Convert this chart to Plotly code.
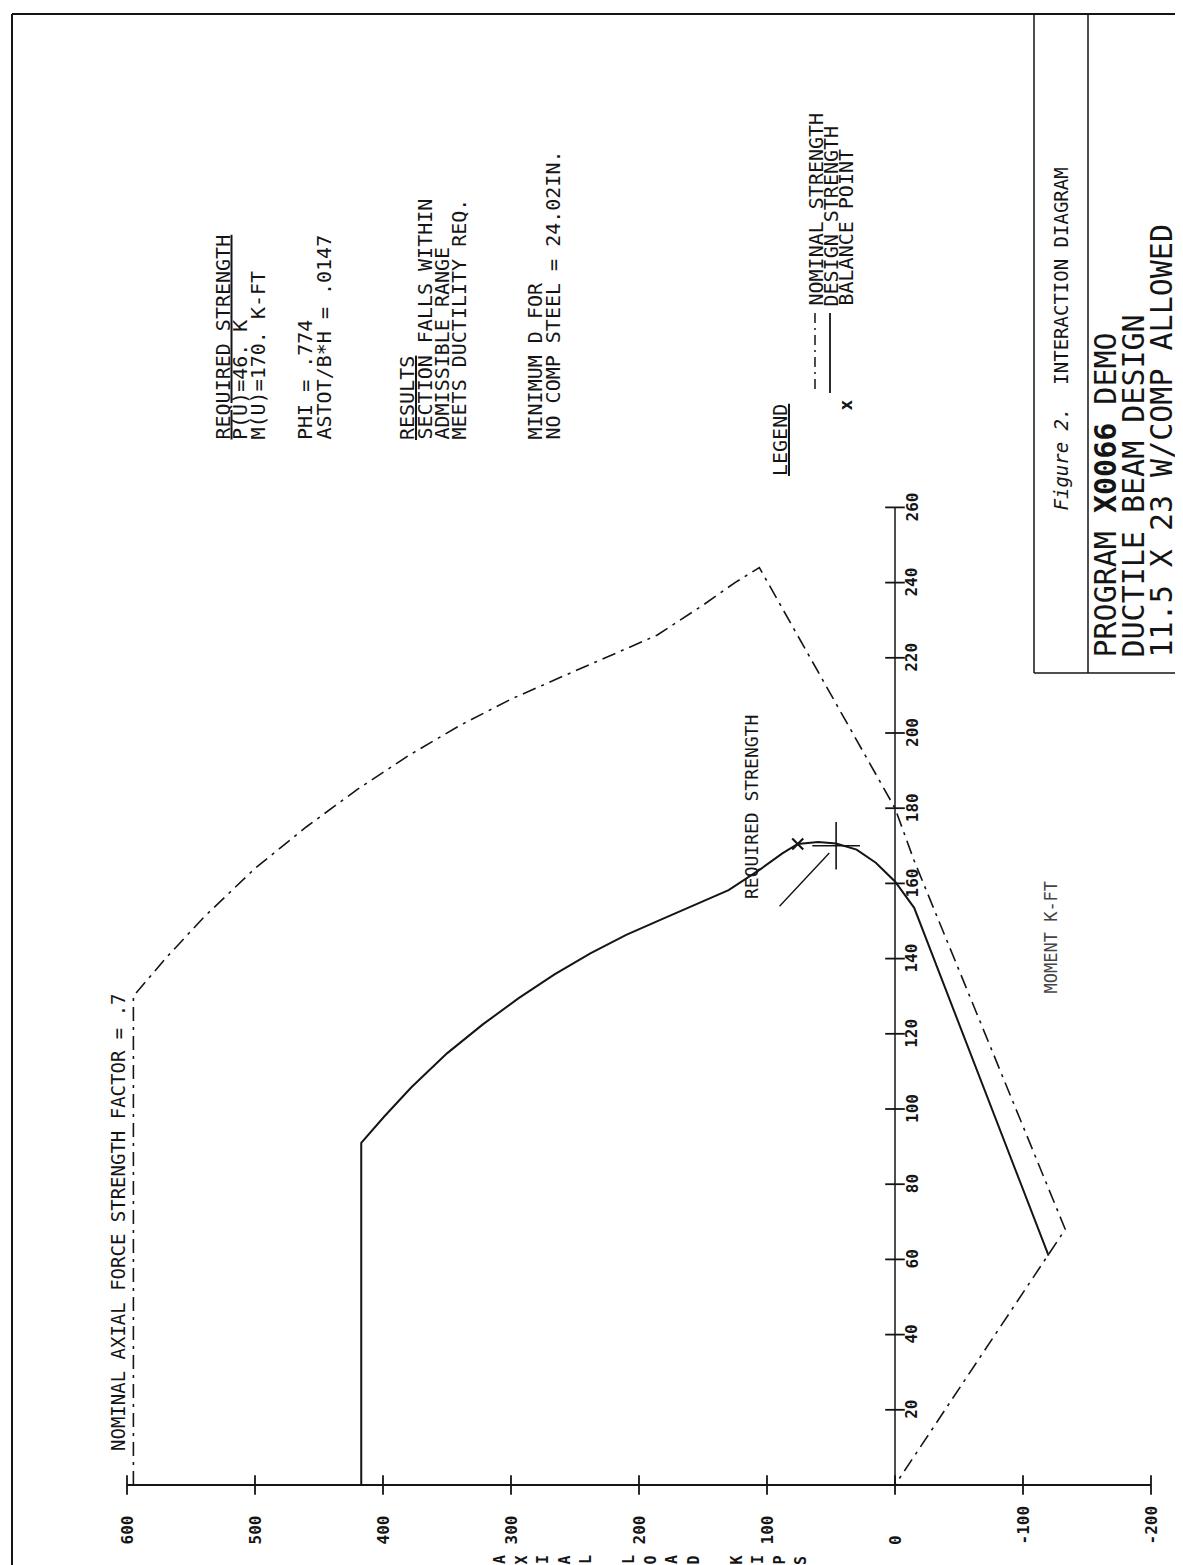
import plotly.graph_objects as go

W, H = 1183, 1565

# ---------------- data ----------------
axial_ticks = [600, 500, 400, 300, 200, 100, 0, -100, -200]
axial_labels = ["600", "500", "400", "300", "200", "100", "0", "-100", "-200"]
moment_ticks = [20, 40, 60, 80, 100, 120, 140, 160, 180, 200, 220, 240, 260]
moment_labels = ["20", "40", "60", "80", "100", "120", "140", "160", "180", "200", "220", "240", "260"]

# nominal strength (axial load P in kips, moment M in k-ft)
nominal_P = [595, 595, 570, 540, 500, 460, 420, 380, 340, 300, 260, 220, 186, 150, 125, 106, 0, -15, -133, 0]
nominal_M = [0, 130, 140, 151, 164, 175, 185, 194, 202, 209, 215, 221, 226, 234, 240, 244, 180, 166, 68, 0]

# design strength
design_P = [417, 417, 399, 378, 350, 322, 294, 266, 238, 210, 182, 154, 130, 105, 88, 76, 60, 46, 30, 15, 0, -15, -120]
design_M = [0, 91, 98, 105.7, 114.8, 122.5, 129.5, 135.8, 141.4, 146.3, 150.5, 154.7, 158.2, 163.8, 168, 170.5, 171, 170.6, 169, 165.5, 160.5, 153.5, 61]

balance_P = [76]
balance_M = [170.5]
required_P = [46]
required_M = [170]

# ---------------- layout geometry ----------------
X_ORIGIN, X_SCALE = 887, 1.28   # px of P=0, px per kip
Y_ORIGIN, Y_SCALE = 1477, 3.76  # px of M=0, px per k-ft
x_range = [X_ORIGIN / X_SCALE, (X_ORIGIN - W) / X_SCALE]
y_range = [(Y_ORIGIN - H) / Y_SCALE, Y_ORIGIN / Y_SCALE]

INK = "#151515"
MONO = "DejaVu Sans Mono"


def px(x):
    return x / W


def py(y):
    return 1 - y / H


fig = go.Figure()

# axes lines
fig.add_trace(go.Scatter(x=[max(axial_ticks), min(axial_ticks)], y=[0, 0], mode="lines",
                         line=dict(color=INK, width=1.8), hoverinfo="skip"))
fig.add_trace(go.Scatter(x=[0, 0], y=[0, max(moment_ticks)], mode="lines",
                         line=dict(color=INK, width=1.5), hoverinfo="skip"))
# tick marks
fig.add_trace(go.Scatter(x=axial_ticks, y=[0] * len(axial_ticks), mode="markers",
                         marker=dict(symbol="line-ns-open", size=14, color=INK,
                                     line=dict(color=INK, width=1.8)),
                         hoverinfo="skip"))
fig.add_trace(go.Scatter(x=[0] * len(moment_ticks), y=moment_ticks, mode="markers",
                         marker=dict(symbol="line-ew-open", size=14, color=INK,
                                     line=dict(color=INK, width=1.8)),
                         hoverinfo="skip"))

# curves
fig.add_trace(go.Scatter(x=nominal_P, y=nominal_M, mode="lines", name="NOMINAL STRENGTH",
                         line=dict(color=INK, width=1.6, dash="14px,6px,3px,6px")))
fig.add_trace(go.Scatter(x=design_P, y=design_M, mode="lines", name="DESIGN STRENGTH",
                         line=dict(color=INK, width=2)))
fig.add_trace(go.Scatter(x=balance_P, y=balance_M, mode="markers", name="BALANCE POINT",
                         marker=dict(symbol="x-thin-open", size=11, color=INK,
                                     line=dict(color=INK, width=2.2))))
fig.add_trace(go.Scatter(x=required_P, y=required_M, mode="markers", name="REQUIRED STRENGTH",
                         marker=dict(symbol="cross-thin-open", size=34, color=INK,
                                     line=dict(color=INK, width=1.6))))

ann = []
# axial tick labels
for v, t in zip(axial_ticks, axial_labels):
    ann.append(dict(x=v, y=0, xref="x", yref="y", text=t, showarrow=False, textangle=-90,
                    xanchor="center", yanchor="bottom", yshift=-62,
                    font=dict(family=MONO, size=16, color=INK, weight="bold")))
# moment tick labels
for v, t in zip(moment_ticks, moment_labels):
    ann.append(dict(x=0, y=v, xref="x", yref="y", text=t, showarrow=False, textangle=-90,
                    xanchor="center", yanchor="middle", xshift=17,
                    font=dict(family=MONO, size=16, color=INK, weight="bold")))

# leader for required strength
ann.append(dict(x=required_P[0], y=required_M[0], xref="x", yref="y", text="", showarrow=True,
                arrowhead=0, arrowwidth=1.4, arrowcolor=INK, ax=-58, ay=62, standoff=10))


def vtext(x, ybottom, text, size=20, color=INK, weight="normal", family=MONO):
    ann.append(dict(x=px(x), y=py(ybottom), xref="paper", yref="paper", text=text,
                    showarrow=False, textangle=-90, xanchor="center", yanchor="bottom",
                    font=dict(family=family, size=size, color=color, weight=weight)))


# text blocks
vtext(214, 434, "<u>REQUIRED STRENGTH</u>")
vtext(232, 434, "P(U)=46. K")
vtext(249, 434, "M(U)=170. K-FT")
vtext(297, 434, "PHI = .774")
vtext(315, 434, "ASTOT/B*H = .0147")
vtext(399, 434, "<u>RESULTS</u>")
vtext(416, 434, "SECTION FALLS WITHIN")
vtext(433, 434, "ADMISSIBLE RANGE")
vtext(450, 434, "MEETS DUCTILITY REQ.")
vtext(526, 434, "MINIMUM D FOR")
vtext(544, 434, "NO COMP STEEL = 24.02IN.")
vtext(772, 470, "<u>LEGEND</u>")
vtext(807, 300, "NOMINAL STRENGTH")
vtext(822, 300, "DESIGN STRENGTH")
vtext(837, 300, "BALANCE POINT")
vtext(837, 405, "x", size=18, weight="bold")

vtext(743, 893, "REQUIRED STRENGTH", size=18)
vtext(110, 1445, "NOMINAL AXIAL FORCE STRENGTH FACTOR = .7", size=19)

# title block
vtext(1053, 505, "<i>Figure 2.</i>  INTERACTION DIAGRAM", size=19)
vtext(1097, 652, "PROGRAM <b>X0066</b> DEMO", size=30)
vtext(1125, 652, "DUCTILE BEAM DESIGN", size=30)
vtext(1153, 652, "11.5 X 23 W/COMP ALLOWED", size=30)

# axis titles
vtext(1042, 988, "MOMENT K-FT", size=17, color="#444")
axial_title = "AXIAL LOAD KIPS"
for i, ch in enumerate(axial_title):
    if ch != " ":
        ann.append(dict(x=px(492 + i * 21.5), y=py(1552), xref="paper", yref="paper", text=ch,
                        showarrow=False, textangle=-90, xanchor="center", yanchor="middle",
                        font=dict(family=MONO, size=15, color=INK, weight="bold")))

shapes = []


def seg(x0, y0, x1, y1, width=2, dash="solid"):
    shapes.append(dict(type="line", xref="paper", yref="paper", x0=px(x0), y0=py(y0),
                       x1=px(x1), y1=py(y1), line=dict(color=INK, width=width, dash=dash)))


# page border
seg(4, 6, 1181, 6)
seg(4, 6, 4, 1561)
seg(4, 1561, 1181, 1561)
seg(1181, 6, 1181, 1561)
# title box
seg(1026, 6, 1026, 665, 1.5)
seg(1080, 6, 1080, 665, 1.5)
seg(1026, 665, 1181, 665, 1.5)
# legend samples
seg(807, 305, 807, 385, 1.5, "10px,5px,2px,5px")
seg(822, 305, 822, 385, 1.8)

fig.update_layout(
    width=W, height=H, margin=dict(l=0, r=0, t=0, b=0),
    paper_bgcolor="white", plot_bgcolor="white", showlegend=False,
    xaxis=dict(range=x_range, visible=False, fixedrange=True),
    yaxis=dict(range=y_range, visible=False, fixedrange=True),
    annotations=ann, shapes=shapes,
)

fig.write_html("out.html")
